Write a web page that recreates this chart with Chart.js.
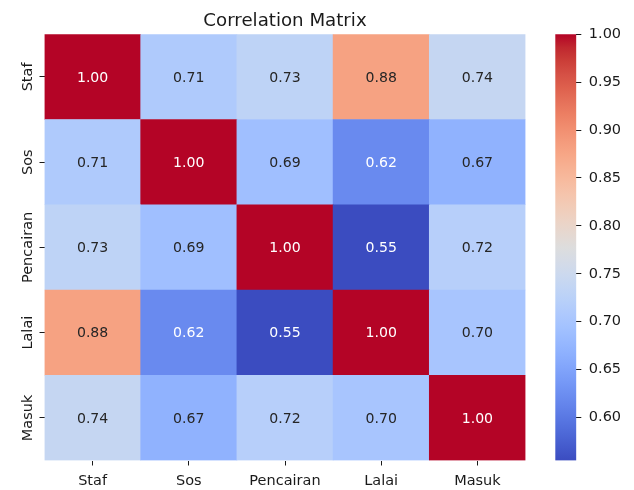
<!DOCTYPE html>
<html>
<head>
<meta charset="utf-8">
<script src="https://cdn.jsdelivr.net/npm/chart.js@4.4.1/dist/chart.umd.min.js"></script>
<style>
  html, body { margin: 0; padding: 0; background: #fff; }
  #wrap { position: relative; width: 634px; height: 490px; }
  canvas { position: absolute; top: 0; }
</style>
</head>
<body>
<div id="wrap">
  <canvas id="heat" width="570" height="490" style="left:0"></canvas>
  <canvas id="cbar" width="94" height="490" style="left:540px"></canvas>
</div>
<script>
// labels, same order for rows and columns
const rowLabels = ['Staf', 'Sos', 'Pencairan', 'Lalai', 'Masuk'];
const colLabels = ['Staf', 'Sos', 'Pencairan', 'Lalai', 'Masuk'];

// correlation values, one array per row
const stafRow      = [1.00, 0.71, 0.73, 0.88, 0.74];
const sosRow       = [0.71, 1.00, 0.69, 0.62, 0.67];
const pencairanRow = [0.73, 0.69, 1.00, 0.55, 0.72];
const lalaiRow     = [0.88, 0.62, 0.55, 1.00, 0.70];
const masukRow     = [0.74, 0.67, 0.72, 0.70, 1.00];
const matrix = [stafRow, sosRow, pencairanRow, lalaiRow, masukRow];

// colour range and colorbar ticks
const vmin = 0.555;
const vmax = 1.00;
const cbarTicks = [0.60, 0.65, 0.70, 0.75, 0.80, 0.85, 0.90, 0.95, 1.00];

// coolwarm colormap, 33 stops
const coolwarm = [
  [59,76,192],[68,90,204],[77,104,215],[87,117,225],[98,130,234],[108,142,241],
  [119,154,247],[130,165,251],[141,176,254],[152,185,255],[163,194,255],[174,201,253],
  [184,208,249],[194,213,244],[204,217,238],[213,219,230],[221,221,221],[229,216,209],
  [236,211,197],[241,204,184],[245,196,172],[247,187,159],[247,177,147],[247,166,134],
  [244,154,123],[241,141,111],[236,127,99],[229,112,89],[222,96,77],[213,80,69],
  [203,62,56],[192,40,47],[180,4,38]
];

function cmap(t) {
  t = Math.max(0, Math.min(1, t));
  const p = t * (coolwarm.length - 1);
  const i = Math.min(Math.floor(p), coolwarm.length - 2);
  const f = p - i;
  const a = coolwarm[i], b = coolwarm[i + 1];
  return [0, 1, 2].map(k => Math.round(a[k] + (b[k] - a[k]) * f));
}
function rgb(c) { return 'rgb(' + c.join(',') + ')'; }
function colorFor(v) { return cmap((v - vmin) / (vmax - vmin)); }

// same rule seaborn uses to pick annotation colour
function textColorFor(c) {
  const lin = c.map(x => {
    x = x / 255;
    return x <= 0.03928 ? x / 12.92 : Math.pow((x + 0.055) / 1.055, 2.4);
  });
  const lum = 0.2126 * lin[0] + 0.7152 * lin[1] + 0.0722 * lin[2];
  return lum > 0.408 ? '#262626' : '#ffffff';
}

const FONT = 'DejaVu Sans';
const tickColor = '#1a1a1a';
const tickSize = 14.5;

// stacked bars, bottom row first
const datasets = matrix.slice().reverse().map((row, i) => ({
  label: rowLabels[rowLabels.length - 1 - i],
  data: row.map(() => 1),
  values: row,
  backgroundColor: row.map(v => rgb(colorFor(v))),
  borderWidth: 0,
  barPercentage: 1,
  categoryPercentage: 1
}));

const annotate = {
  id: 'annotate',
  afterDatasetsDraw(chart) {
    const ctx = chart.ctx;
    ctx.save();
    ctx.font = '14.1px "' + FONT + '"';
    ctx.textAlign = 'center';
    ctx.textBaseline = 'middle';
    chart.data.datasets.forEach((ds, di) => {
      chart.getDatasetMeta(di).data.forEach((bar, j) => {
        const p = bar.getProps(['x', 'y', 'base'], true);
        const v = ds.values[j];
        ctx.fillStyle = textColorFor(colorFor(v));
        ctx.fillText(v.toFixed(2), p.x, (p.y + p.base) / 2 + 1);
      });
    });
    ctx.restore();
  }
};

// rotated row labels on the left, and the title
const labelsAndTitle = {
  id: 'labelsAndTitle',
  afterDraw(chart) {
    const ctx = chart.ctx;
    const area = chart.chartArea;
    const y = chart.scales.y;
    ctx.save();
    ctx.font = tickSize + 'px "' + FONT + '"';
    ctx.fillStyle = tickColor;
    ctx.textAlign = 'center';
    ctx.textBaseline = 'alphabetic';
    rowLabels.forEach((name, i) => {
      const py = y.getPixelForValue(rowLabels.length - 0.5 - i);
      ctx.save();
      ctx.translate(area.left - 12.8, py);
      ctx.rotate(-Math.PI / 2);
      ctx.fillText(name, 0, 0);
      ctx.restore();
    });
    ctx.font = '18.2px "' + FONT + '"';
    ctx.fillText('Correlation Matrix', (area.left + area.right) / 2, area.top - 8.3);
    ctx.restore();
  }
};

new Chart(document.getElementById('heat'), {
  type: 'bar',
  data: { labels: colLabels, datasets: datasets },
  options: {
    responsive: false,
    animation: false,
    devicePixelRatio: 1,
    layout: { padding: { left: 0, right: 44.5, top: 34.3, bottom: 0 } },
    plugins: {
      legend: { display: false },
      tooltip: { enabled: false },
      title: { display: false }
    },
    scales: {
      x: {
        stacked: true,
        border: { display: false },
        grid: { drawOnChartArea: false, drawTicks: true, tickLength: 5, offset: false, color: tickColor },
        ticks: { color: tickColor, font: { family: FONT, size: tickSize }, padding: 7, maxRotation: 0 },
        afterFit: s => { s.height = 29.5; }
      },
      y: {
        stacked: true,
        min: 0,
        max: 5,
        border: { display: false },
        grid: { drawOnChartArea: false, drawTicks: true, tickLength: 5, color: tickColor },
        afterBuildTicks: s => { s.ticks = [0.5, 1.5, 2.5, 3.5, 4.5].map(v => ({ value: v })); },
        ticks: { callback: () => '' },
        afterFit: s => { s.width = 44.5; }
      }
    }
  },
  plugins: [annotate, labelsAndTitle]
});

// colorbar
new Chart(document.getElementById('cbar'), {
  type: 'bar',
  data: {
    labels: [''],
    datasets: [{
      data: [[vmin, vmax]],
      borderWidth: 0,
      barPercentage: 1,
      categoryPercentage: 1,
      backgroundColor: (c) => {
        const area = c.chart.chartArea;
        if (!area) return 'rgb(221,221,221)';
        const g = c.chart.ctx.createLinearGradient(0, area.bottom, 0, area.top);
        coolwarm.forEach((col, i) => g.addColorStop(i / (coolwarm.length - 1), rgb(col)));
        return g;
      }
    }]
  },
  options: {
    responsive: false,
    animation: false,
    devicePixelRatio: 1,
    layout: { padding: { left: 15.3, right: 0, top: 34.3, bottom: 29.5 } },
    plugins: { legend: { display: false }, tooltip: { enabled: false } },
    scales: {
      x: { display: false },
      y: {
        position: 'right',
        min: vmin,
        max: vmax,
        border: { display: false },
        grid: { drawOnChartArea: false, drawTicks: true, tickLength: 5, color: tickColor },
        afterBuildTicks: s => { s.ticks = cbarTicks.map(v => ({ value: v })); },
        ticks: { color: tickColor, font: { family: FONT, size: tickSize }, padding: 7.5, callback: v => v.toFixed(2) },
        afterFit: s => { s.width = 57.7; }
      }
    }
  }
});
</script>
</body>
</html>
